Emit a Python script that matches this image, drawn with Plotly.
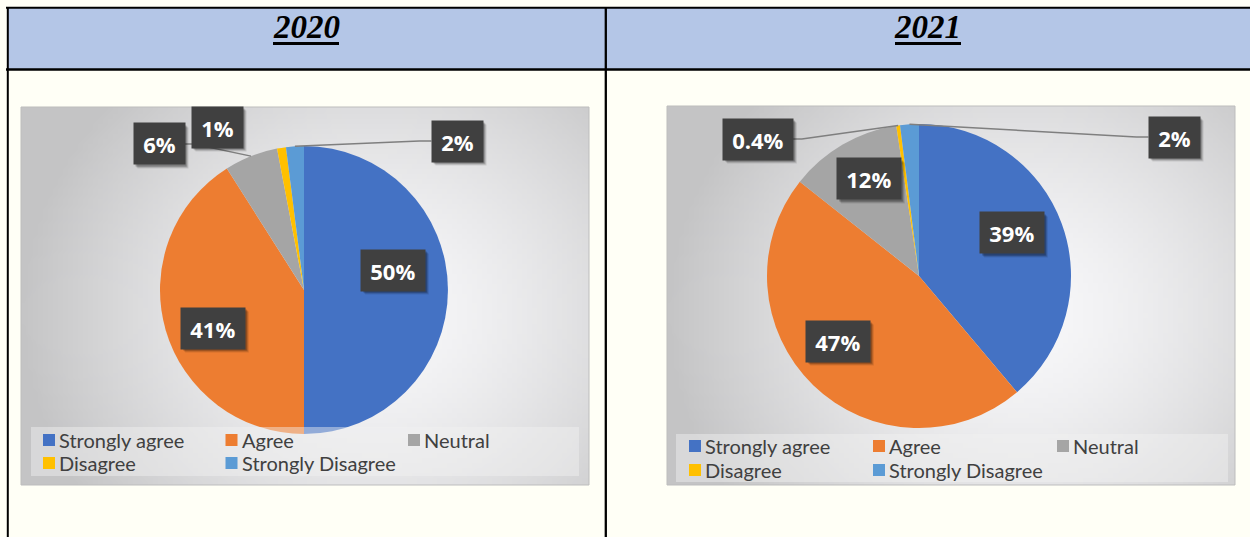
import base64
import math
import struct
import zlib

import plotly.graph_objects as go

# ---------------- data ----------------
categories = ["Strongly agree", "Agree", "Neutral", "Disagree", "Strongly Disagree"]
years = ["2020", "2021"]
values_2020 = [50, 41, 6, 1, 2]
values_2021 = [39, 47, 12, 0.4, 2]
colors = ["#4472C4", "#ED7D31", "#A5A5A5", "#FFC000", "#5B9BD5"]

# ---------------- layout / style (pixels) ----------------
W, H = 1250, 537
PAGE_BG = "#FFFFF6"
HEADER_BG = "#B4C6E7"

panels = [
    dict(
        year=years[0], values=values_2020, title_x=306,
        chart_box=(21, 107, 589, 485), center=(304, 290), radius=144,
        label_xy=[(393, 270), (213, 328), (159, 144), (217, 127), (457, 141)],
        leaders={2: "right", 4: "left"},
        legend_box=(31, 427, 579, 476), legend_x0=49, legend_dx=182.5, legend_rows=(440, 463),
    ),
    dict(
        year=years[1], values=values_2021, title_x=928,
        chart_box=(667, 106, 1235, 485), center=(919, 276), radius=152,
        label_xy=[(1012, 233), (838, 341), (869, 179), (758, 139), (1174, 137)],
        leaders={3: "right", 4: "left"},
        legend_box=(676, 434, 1228, 482), legend_x0=695, legend_dx=184, legend_rows=(446, 470),
    ),
]


def px(x):
    return x / W


def py(y):
    return 1 - y / H


def gradient_uri(w, h):
    def pix(x, y):
        u = (x + 0.5) / w
        v = (y + 0.5) / h
        dx = (u - 0.62) / 0.62
        dy = (v - 0.55) / 0.85
        d = min(1.0, math.hypot(dx, dy))
        t = d ** 1.5
        c0, c1 = (248, 248, 250), (196, 196, 197)
        return tuple(int(round(a + (b - a) * t)) for a, b in zip(c0, c1))

    raw = b"".join(
        b"\x00" + bytes(c for x in range(w) for c in pix(x, y)) for y in range(h)
    )

    def chunk(tag, data):
        c = struct.pack(">I", len(data)) + tag + data
        return c + struct.pack(">I", zlib.crc32(tag + data) & 0xFFFFFFFF)

    png = (
        b"\x89PNG\r\n\x1a\n"
        + chunk(b"IHDR", struct.pack(">IIBBBBB", w, h, 8, 2, 0, 0, 0))
        + chunk(b"IDAT", zlib.compress(raw, 9))
        + chunk(b"IEND", b"")
    )
    return "data:image/png;base64," + base64.b64encode(png).decode()


def text_w(s):
    return sum(6 if ch == "." else 19.5 if ch == "%" else 12.6 for ch in s)


fig = go.Figure()
shapes, annotations, images = [], [], []

# table header and borders
shapes.append(dict(type="rect", xref="paper", yref="paper", x0=px(7), x1=px(W), y0=py(69), y1=py(8),
                   fillcolor=HEADER_BG, line=dict(width=0), layer="below"))
for (x0, y0, x1, y1, lw) in [(6, 7.7, W, 7.7, 2), (6, 69.5, W, 69.5, 2.5),
                             (7.8, 7, 7.8, H, 2), (605.8, 7, 605.8, H, 2.3)]:
    shapes.append(dict(type="line", xref="paper", yref="paper", x0=px(x0), x1=px(x1), y0=py(y0), y1=py(y1),
                       line=dict(color="black", width=lw), layer="above"))

grad = gradient_uri(114, 76)

for p in panels:
    vals = p["values"]
    cx, cy = p["center"]
    r = p["radius"]
    bx0, by0, bx1, by1 = p["chart_box"]

    # title
    annotations.append(dict(text=p["year"], x=px(p["title_x"]), y=py(27), xref="paper", yref="paper",
                            xanchor="center", yanchor="middle", showarrow=False,
                            font=dict(family="Liberation Serif", size=33, color="black",
                                      weight="bold", style="italic")))
    shapes.append(dict(type="line", xref="paper", yref="paper",
                       x0=px(p["title_x"] - 33), x1=px(p["title_x"] + 33), y0=py(43.5), y1=py(43.5),
                       line=dict(color="black", width=3), layer="above"))

    # chart area background
    images.append(dict(source=grad, xref="paper", yref="paper", x=px(bx0), y=py(by0),
                       sizex=px(bx1) - px(bx0), sizey=py(by0) - py(by1),
                       xanchor="left", yanchor="top", sizing="stretch", layer="below"))
    shapes.append(dict(type="rect", xref="paper", yref="paper", x0=px(bx0), x1=px(bx1), y0=py(by1), y1=py(by0),
                       line=dict(color="#BDBDBD", width=1), fillcolor="rgba(0,0,0,0)", layer="below"))
    lx0, ly0, lx1, ly1 = p["legend_box"]
    shapes.append(dict(type="rect", xref="paper", yref="paper", x0=px(lx0), x1=px(lx1), y0=py(ly1), y1=py(ly0),
                       line=dict(width=0), fillcolor="rgba(242,242,242,0.45)", layer="above"))

    # pie
    fig.add_trace(go.Pie(
        values=vals, labels=categories, sort=False, direction="clockwise", rotation=0,
        marker=dict(colors=colors, line=dict(width=0)), textinfo="none",
        hoverinfo="label+value", showlegend=False,
        domain=dict(x=[px(cx - r), px(cx + r)], y=[py(cy + r), py(cy - r)]),
    ))

    total = sum(vals)
    cum = 0
    mids = []
    for v in vals:
        mids.append((cum + v / 2) / total * 2 * math.pi)
        cum += v

    labels = [f"{v:g}%" for v in vals]

    # leader lines
    for i, side in p["leaders"].items():
        a = mids[i]
        sx, sy = cx + r * math.sin(a), cy - r * math.cos(a)
        lxc, lyc = p["label_xy"][i]
        half = (text_w(labels[i]) + 19) / 2
        ex = lxc + half if side == "right" else lxc - half
        elbow = ex + 9 if side == "right" else ex - 12
        shapes.append(dict(type="path", xref="paper", yref="paper",
                           path=f"M {px(sx)} {py(sy)} L {px(elbow)} {py(lyc)} L {px(ex)} {py(lyc)}",
                           line=dict(color="#7F7F7F", width=1.5), layer="above"))

    # data labels (dark boxes with a soft shadow)
    for i, lab in enumerate(labels):
        lxc, lyc = p["label_xy"][i]
        half_w = (text_w(lab) + 19) / 2
        half_h = 20.5
        for off, alpha in [(4, 0.10), (3, 0.16), (2, 0.22)]:
            shapes.append(dict(type="rect", xref="paper", yref="paper",
                               x0=px(lxc - half_w + off), x1=px(lxc + half_w + off),
                               y0=py(lyc + half_h + off), y1=py(lyc - half_h + off),
                               fillcolor=f"rgba(0,0,0,{alpha})", line=dict(width=0), layer="above"))
        annotations.append(dict(text=lab, x=px(lxc), y=py(lyc), xref="paper", yref="paper",
                                xanchor="center", yanchor="middle", showarrow=False,
                                width=text_w(lab) + 9, height=31, borderpad=5, bgcolor="#404040",
                                font=dict(family="Open Sans", size=22, color="white", weight="bold")))

    # legend
    for i, cat in enumerate(categories):
        col, row = i % 3, i // 3
        mx = p["legend_x0"] + col * p["legend_dx"]
        my = p["legend_rows"][row]
        shapes.append(dict(type="rect", xref="paper", yref="paper", x0=px(mx - 6), x1=px(mx + 6),
                           y0=py(my + 6), y1=py(my - 6), fillcolor=colors[i], line=dict(width=0),
                           layer="above"))
        annotations.append(dict(text=cat, x=px(mx + 8), y=py(my), xref="paper", yref="paper",
                                xanchor="left", yanchor="middle", showarrow=False,
                                font=dict(family="Lato", size=20, color="#404040")))

fig.update_layout(
    width=W, height=H, margin=dict(l=0, r=0, t=0, b=0),
    paper_bgcolor=PAGE_BG, plot_bgcolor="rgba(0,0,0,0)",
    shapes=shapes, annotations=annotations, images=images,
    showlegend=False,
)

fig.write_html("out.html", config={"displayModeBar": False},
               post_script="document.body.style.margin='0';document.body.style.overflow='hidden';")
